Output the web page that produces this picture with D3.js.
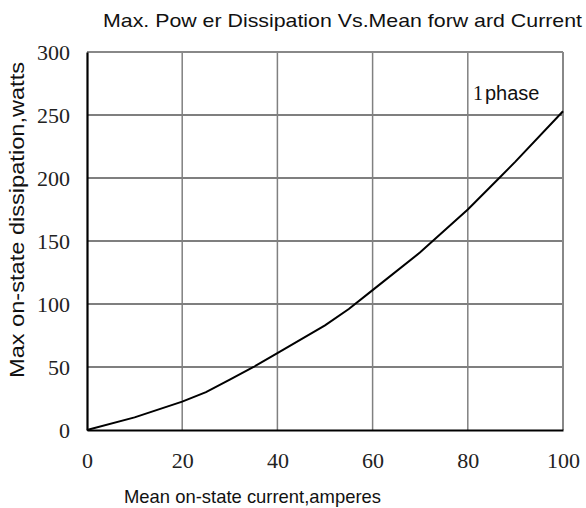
<!DOCTYPE html>
<html><head><meta charset="utf-8">
<script src="https://cdn.jsdelivr.net/npm/d3@7"></script>
<style>body{margin:0;background:#fff}</style>
</head><body>
<svg id="c" width="586" height="508"></svg>
<script>
const current = [0, 10, 20, 25, 30, 35, 40, 50, 55, 60, 70, 80, 86.6, 90, 100];
const dissipation = [0, 10, 22.5, 30, 40, 50, 61, 83, 96, 111, 141, 175, 200, 213, 253];
const xTicks = [0, 20, 40, 60, 80, 100];
const yTicks = [0, 50, 100, 150, 200, 250, 300];

const svg = d3.select("#c");
const L = 87, R = 563, T = 52, B = 430;
const x = d3.scaleLinear().domain([0, 100]).range([L, R]);
const y = d3.scaleLinear().domain([0, 300]).range([B, T]);
const sans = "Liberation Sans, Arial, sans-serif";
const serif = "Liberation Serif, 'Times New Roman', serif";

// horizontal grid (black)
svg.append("g").selectAll("line").data(yTicks.filter(d => d > 0 && d < 300)).join("line")
  .attr("x1", L).attr("x2", R).attr("y1", d => y(d)).attr("y2", d => y(d))
  .attr("stroke", "#000").attr("stroke-width", 1.2);
// vertical grid (gray)
svg.append("g").selectAll("line").data(xTicks.filter(d => d > 0 && d < 100)).join("line")
  .attr("y1", T).attr("y2", B).attr("x1", d => x(d)).attr("x2", d => x(d))
  .attr("stroke", "#808080").attr("stroke-width", 1.5);
// top and right border (gray)
svg.append("line").attr("x1", L).attr("x2", R).attr("y1", T).attr("y2", T).attr("stroke", "#888").attr("stroke-width", 2);
svg.append("line").attr("x1", R).attr("x2", R).attr("y1", T).attr("y2", B).attr("stroke", "#888").attr("stroke-width", 2);

// axes
const xAxis = svg.append("g").attr("transform", `translate(0,${B})`)
  .call(d3.axisBottom(x).tickValues(xTicks).tickSize(0).tickPadding(22).tickFormat(d3.format("d")));
xAxis.select(".domain").attr("stroke", "#000").attr("stroke-width", 2.2);
const yAxis = svg.append("g").attr("transform", `translate(${L},0)`)
  .call(d3.axisLeft(y).tickValues(yTicks).tickSize(0).tickPadding(17).tickFormat(d3.format("d")));
yAxis.select(".domain").attr("stroke", "#000").attr("stroke-width", 2.2);
svg.selectAll(".tick text").attr("font-family", serif).attr("font-size", 22).attr("fill", "#222");

// curve
svg.append("path").datum(current.map((c, i) => [c, dissipation[i]]))
  .attr("d", d3.line().x(d => x(d[0])).y(d => y(d[1])))
  .attr("fill", "none").attr("stroke", "#000").attr("stroke-width", 2);

// texts
svg.append("text").attr("x", 103).attr("y", 27)
  .attr("font-family", sans).attr("font-size", 19).attr("fill", "#111")
  .attr("textLength", 479).attr("lengthAdjust", "spacingAndGlyphs")
  .text("Max. Pow er Dissipation Vs.Mean forw ard Current");
svg.append("text").attr("x", 124).attr("y", 503)
  .attr("font-family", sans).attr("font-size", 19).attr("fill", "#111")
  .attr("textLength", 257).attr("lengthAdjust", "spacingAndGlyphs")
  .text("Mean on-state current,amperes");
svg.append("text").attr("transform", "translate(24,378) rotate(-90)")
  .attr("font-family", sans).attr("font-size", 20).attr("fill", "#111")
  .attr("textLength", 316).attr("lengthAdjust", "spacingAndGlyphs")
  .text("Max on-state dissipation,watts");
const ph = svg.append("text").attr("x", 473).attr("y", 100)
  .attr("font-family", sans).attr("font-size", 20).attr("fill", "#111");
ph.append("tspan").attr("font-family", serif).text("1");
ph.append("tspan").attr("dx", 2).text("phase");
</script>
</body></html>
